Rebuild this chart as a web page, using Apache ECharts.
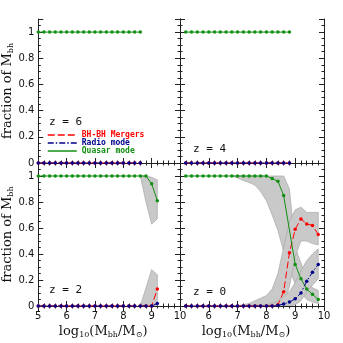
<!DOCTYPE html>
<html>
<head>
<meta charset="utf-8">
<script src="https://cdn.jsdelivr.net/npm/echarts@6/dist/echarts.min.js"></script>
<style>
html, body { margin: 0; padding: 0; background: #fff; }
#chartmain { width: 343px; height: 343px; }
</style>
</head>
<body>
<div id="chartmain"></div>
<script>
var seriesNames = ['BH-BH Mergers', 'Radio mode', 'Quasar mode'];
var panelLabels = ['z = 6', 'z = 4', 'z = 2', 'z = 0'];

// z = 6
var mass6 = [5.0, 5.2, 5.4, 5.6, 5.8, 6.0, 6.2, 6.4, 6.6, 6.8, 7.0, 7.2, 7.4, 7.6, 7.8, 8.0, 8.2, 8.4, 8.6];
var quasar6 = [1, 1, 1, 1, 1, 1, 1, 1, 1, 1, 1, 1, 1, 1, 1, 1, 1, 1, 1];
var radio6 = [0, 0, 0, 0, 0, 0, 0, 0, 0, 0, 0, 0, 0, 0, 0, 0, 0, 0, 0];
var merger6 = [0, 0, 0, 0, 0, 0, 0, 0, 0, 0, 0, 0, 0, 0, 0, 0, 0, 0, 0];

// z = 4
var mass4 = [5.2, 5.4, 5.6, 5.8, 6.0, 6.2, 6.4, 6.6, 6.8, 7.0, 7.2, 7.4, 7.6, 7.8, 8.0, 8.2, 8.4, 8.6, 8.8];
var quasar4 = [1, 1, 1, 1, 1, 1, 1, 1, 1, 1, 1, 1, 1, 1, 1, 1, 1, 1, 1];
var radio4 = [0, 0, 0, 0, 0, 0, 0, 0, 0, 0, 0, 0, 0, 0, 0, 0, 0, 0, 0];
var merger4 = [0, 0, 0, 0, 0, 0, 0, 0, 0, 0, 0, 0, 0, 0, 0, 0, 0, 0, 0];

// z = 2
var mass2 = [5.0, 5.2, 5.4, 5.6, 5.8, 6.0, 6.2, 6.4, 6.6, 6.8, 7.0, 7.2, 7.4, 7.6, 7.8, 8.0, 8.2, 8.4, 8.6, 8.8, 9.0, 9.2];
var quasar2 = [1, 1, 1, 1, 1, 1, 1, 1, 1, 1, 1, 1, 1, 1, 1, 1, 1, 1, 1, 1, 0.94, 0.81];
var radio2 = [0, 0, 0, 0, 0, 0, 0, 0, 0, 0, 0, 0, 0, 0, 0, 0, 0, 0, 0, 0, 0, 0.02];
var merger2 = [0, 0, 0, 0, 0, 0, 0, 0, 0, 0, 0, 0, 0, 0, 0, 0, 0, 0, 0, 0, 0, 0.13];
// scatter bands (z = 2)
var bandQ2x = [8.6, 8.8, 9.0, 9.2];
var bandQ2lo = [1.0, 0.80, 0.63, 0.67];
var bandQ2hi = [1.0, 1.0, 0.99, 0.97];
var bandM2x = [8.6, 8.8, 9.0, 9.2];
var bandM2lo = [0, 0, 0, 0];
var bandM2hi = [0, 0.14, 0.28, 0.24];

// z = 0
var mass0 = [5.2, 5.4, 5.6, 5.8, 6.0, 6.2, 6.4, 6.6, 6.8, 7.0, 7.2, 7.4, 7.6, 7.8, 8.0, 8.2, 8.4, 8.6, 8.8, 9.0, 9.2, 9.4, 9.6, 9.8];
var quasar0 = [1, 1, 1, 1, 1, 1, 1, 1, 1, 1, 1, 1, 1, 1, 1, 0.98, 0.96, 0.85, null, 0.32, 0.21, 0.13, 0.09, 0.05];
var radio0 = [0, 0, 0, 0, 0, 0, 0, 0, 0, 0, 0, 0, 0, 0, 0, 0, 0.005, 0.015, 0.03, 0.055, 0.10, 0.19, 0.26, 0.32];
var merger0 = [0, 0, 0, 0, 0, 0, 0, 0, 0, 0, 0, 0, 0, 0, 0, 0, 0.01, 0.11, 0.41, 0.59, 0.67, 0.63, 0.62, 0.55];
// scatter bands (z = 0)
var bandQ0x = [6.8, 7.0, 7.2, 7.4, 7.6, 7.8, 8.0, 8.2, 8.4, 8.6, 8.8, 9.0, 9.2, 9.4, 9.6, 9.8];
var bandQ0lo = [1.0, 0.985, 0.965, 0.95, 0.93, 0.88, 0.81, 0.70, 0.58, 0.42, 0.28, 0.17, 0.10, 0.05, 0.03, 0.02];
var bandQ0hi = [1.0, 1.0, 1.0, 1.0, 1.0, 1.0, 1.0, 1.0, 1.0, 1.0, 0.90, 0.45, 0.33, 0.20, 0.14, 0.12];
var bandM0x = [7.0, 7.2, 7.4, 7.6, 7.8, 8.0, 8.2, 8.4, 8.6, 8.8, 9.0, 9.2, 9.4, 9.6, 9.8];
var bandM0lo = [0, 0, 0, 0, 0, 0, 0, 0, 0, 0.15, 0.38, 0.50, 0.50, 0.48, 0.47];
var bandM0hi = [0, 0.01, 0.02, 0.04, 0.06, 0.08, 0.13, 0.25, 0.45, 0.65, 0.74, 0.76, 0.72, 0.72, 0.72];
var bandR0x = [7.8, 8.0, 8.2, 8.4, 8.6, 8.8, 9.0, 9.2, 9.4, 9.6, 9.8];
var bandR0lo = [0, 0, 0, 0, 0, 0, 0.01, 0.04, 0.11, 0.16, 0.21];
var bandR0hi = [0, 0.01, 0.02, 0.04, 0.07, 0.11, 0.18, 0.27, 0.35, 0.40, 0.44];

var colors = { merger: '#ff0000', radio: '#00008b', quasar: '#138f13' };

var panels = [
    { grid: { left: 36, top: 19, width: 144, height: 144 }, mass: mass6, merger: merger6, radio: radio6, quasar: quasar6, bands: [], label: [49, 123] },
    { grid: { left: 180, top: 19, width: 144, height: 144 }, mass: mass4, merger: merger4, radio: radio4, quasar: quasar4, bands: [], label: [193, 150] },
    { grid: { left: 36, top: 163, width: 144, height: 143 }, mass: mass2, merger: merger2, radio: radio2, quasar: quasar2,
      bands: [[bandQ2x, bandQ2lo, bandQ2hi], [bandM2x, bandM2lo, bandM2hi]], label: [49, 291] },
    { grid: { left: 180, top: 163, width: 144, height: 143 }, mass: mass0, merger: merger0, radio: radio0, quasar: quasar0,
      bands: [[bandQ0x, bandQ0lo, bandQ0hi], [bandM0x, bandM0lo, bandM0hi], [bandR0x, bandR0lo, bandR0hi]], label: [193, 293] }
];

function pairs(xs, ys) {
    var out = [];
    for (var i = 0; i < xs.length; i++) out.push([xs[i], ys[i]]);
    return out;
}

var axisCol = '#222';
var labelFont = 'DejaVu Sans';
var titleFont = 'DejaVu Serif';

var option = {
    animation: false,
    backgroundColor: '#fff',
    grid: [], xAxis: [], yAxis: [], series: [], graphic: [],
    legend: {
        left: 47, top: 131, orient: 'vertical', padding: 0,
        itemWidth: 29, itemHeight: 6, itemGap: 0,
        selectedMode: false,
        itemStyle: { opacity: 0 },
        lineStyle: { width: 1.5 },
        textStyle: { fontFamily: 'DejaVu Sans Mono', fontSize: 8, fontWeight: 'bold', lineHeight: 8 },
        data: [
            { name: seriesNames[0], textStyle: { color: colors.merger } },
            { name: seriesNames[1], textStyle: { color: colors.radio } },
            { name: seriesNames[2], textStyle: { color: colors.quasar } }
        ]
    }
};

panels.forEach(function (p, g) {
    var isLeft = (g % 2 === 0), isBottom = (g >= 2);
    option.grid.push(p.grid);
    var xBase = {
        gridIndex: g, type: 'value', min: 5, max: 10, interval: 1,
        axisLine: { lineStyle: { color: axisCol, width: 1 } },
        axisTick: { inside: true, length: 5, lineStyle: { color: axisCol } },
        minorTick: { show: true, splitNumber: 5, length: 2.5, lineStyle: { color: axisCol } },
        splitLine: { show: false }
    };
    option.xAxis.push(Object.assign({}, xBase, {
        position: 'bottom',
        axisLabel: {
            show: isBottom, margin: 5, fontSize: 10, fontFamily: labelFont, color: '#111',
            formatter: function (v) { return (!isLeft && v === 5) ? '' : String(v); }
        },
        name: isBottom ? '{n|log}{s|10}{n|(M}{s|bh}{n|/M}{s|\u2299}{n|)}' : '',
        nameLocation: 'middle', nameGap: 19,
        nameTextStyle: { padding: [0, 12, 0, 0], rich: {
            n: { fontFamily: titleFont, fontSize: 13, color: '#111' },
            s: { fontFamily: titleFont, fontSize: 8, color: '#111', verticalAlign: 'bottom', padding: [6, 0, 0, 0] }
        } }
    }));
    option.xAxis.push(Object.assign({}, xBase, { position: 'top', axisLabel: { show: false } }));
    var yBase = {
        gridIndex: g, type: 'value', min: 0, max: 1.1, interval: 0.2,
        axisLine: { lineStyle: { color: axisCol, width: 1 } },
        axisTick: { inside: true, length: 5, lineStyle: { color: axisCol } },
        minorTick: { show: true, splitNumber: 4, length: 2.5, lineStyle: { color: axisCol } },
        splitLine: { show: false }
    };
    option.yAxis.push(Object.assign({}, yBase, {
        position: 'left',
        axisLabel: {
            show: isLeft, margin: 4, fontSize: 10, fontFamily: labelFont, color: '#111',
            formatter: function (v) { return v > 1.05 ? '' : String(+v.toFixed(1)); }
        },
        name: isLeft ? '{n|fraction of M}{s|bh}' : '',
        nameLocation: 'middle', nameGap: 20, nameRotate: 90,
        nameTextStyle: { rich: {
            n: { fontFamily: titleFont, fontSize: 13, color: '#111' },
            s: { fontFamily: titleFont, fontSize: 8, color: '#111', verticalAlign: 'bottom', padding: [6, 0, 0, 0] }
        } }
    }));
    option.yAxis.push(Object.assign({}, yBase, { position: 'right', axisLabel: { show: false } }));

    p.bands.forEach(function (b) {
        option.series.push({
            type: 'custom', xAxisIndex: 2 * g, yAxisIndex: 2 * g, z: 1, silent: true, clip: true,
            data: [[b[0][0], b[1][0]]],
            renderItem: function (params, api) {
                var pts = [], i;
                for (i = 0; i < b[0].length; i++) pts.push(api.coord([b[0][i], b[2][i]]));
                for (i = b[0].length - 1; i >= 0; i--) pts.push(api.coord([b[0][i], b[1][i]]));
                return { type: 'polygon', shape: { points: pts },
                         style: { fill: '#c9c9c9', stroke: '#a8a8a8', lineWidth: 0.7 } };
            }
        });
    });

    var lineDefs = [
        { name: seriesNames[0], data: p.merger, color: colors.merger, dash: [7, 3] },
        { name: seriesNames[2], data: p.quasar, color: colors.quasar, dash: 'solid' },
        { name: seriesNames[1], data: p.radio, color: colors.radio, dash: [6, 2, 1.5, 2] }
    ];
    lineDefs.forEach(function (d) {
        option.series.push({
            type: 'line', name: d.name, xAxisIndex: 2 * g, yAxisIndex: 2 * g, z: 3,
            data: pairs(p.mass, d.data), connectNulls: true,
            symbol: 'circle', symbolSize: 3.5, showSymbol: true,
            itemStyle: { color: d.color },
            lineStyle: { color: d.color, width: 1, type: d.dash }
        });
    });

    option.graphic.push({
        type: 'text', left: p.label[0], top: p.label[1] - 6, z: 10,
        style: { text: panelLabels[g], font: '11px "DejaVu Sans Mono"', fill: '#111' }
    });
});

var myChart = echarts.init(document.getElementById('chartmain'));
myChart.setOption(option);
</script>
</body>
</html>
